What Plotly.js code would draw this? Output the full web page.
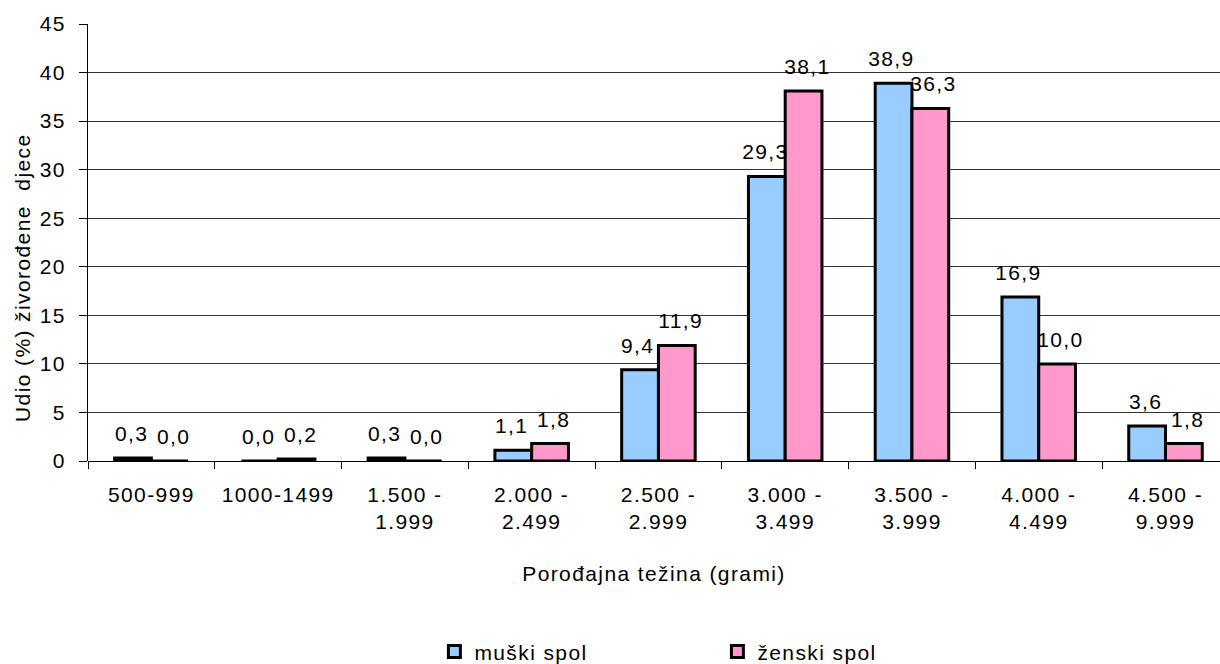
<!DOCTYPE html>
<html><head><meta charset="utf-8">
<script src="https://cdn.plot.ly/plotly-3.0.1.min.js"></script>
<style>body{margin:0;background:#fff}#c{width:1220px;height:664px}
#c text{letter-spacing:1.4px}</style>
</head><body><div id="c"></div>
<script>
const categories = ["500-999","1000-1499","1.500 -<br>1.999","2.000 -<br>2.499","2.500 -<br>2.999","3.000 -<br>3.499","3.500 -<br>3.999","4.000 -<br>4.499","4.500 -<br>9.999"];
const muski = [0.3,0.0,0.3,1.1,9.4,29.3,38.9,16.9,3.6];
const zenski = [0.0,0.2,0.0,1.8,11.9,38.1,36.3,10.0,1.8];
const seriesNames = ["muški spol","ženski spol"];
const yTitle = "Udio (%) živorođene  djece";
const xTitle = "Porođajna težina (grami)";
const fmt = v => v.toFixed(1).replace('.', ',');
const font = {family: "Liberation Sans, Arial, sans-serif", size: 21, color: "#000"};
const mk = (y, name, color) => ({
  type: "bar", x: categories, y: y, name: name,
  marker: {color: color, line: {color: "#000", width: 3}},
  hoverinfo: "skip"
});
const traces = [mk(muski, seriesNames[0], "#99CCFF"), mk(zenski, seriesNames[1], "#FF99CC")];
const annotations = [];
categories.forEach((c, i) => {
  annotations.push({x: i, xshift: -20, y: muski[i], text: fmt(muski[i]), showarrow: false, yanchor: "bottom", yshift: 11, font: font, xref: "x", yref: "y"});
  annotations.push({x: i, xshift: 22, y: zenski[i], text: fmt(zenski[i]), showarrow: false, yanchor: "bottom", yshift: 11, font: font, xref: "x", yref: "y"});
});
annotations.push({xref: "paper", yref: "paper", x: -0.058, y: 0.42, xanchor: "center", yanchor: "middle",
  textangle: -90, text: yTitle, showarrow: false, font: font});
const layout = {
  width: 1220, height: 664,
  margin: {l: 88, r: 0, t: 24, b: 203, autoexpand: false},
  paper_bgcolor: "#fff", plot_bgcolor: "#fff",
  barmode: "group", bargap: 0.42, bargroupgap: 0,
  font: font,
  xaxis: {
    type: "category", range: [-0.5, 8.43], tickson: "boundaries", automargin: false,
    ticks: "outside", ticklen: 7, tickcolor: "#000", tickwidth: 1,
    showline: false, showgrid: false, zeroline: false,
    tickfont: font, ticklabelstandoff: 19,
    title: {text: xTitle, font: font, standoff: 34}
  },
  yaxis: {
    range: [0, 45], dtick: 5, ticks: "outside", ticklen: 8, tickcolor: "#000", automargin: false,
    showline: true, linecolor: "#000", linewidth: 1,
    showgrid: true, gridcolor: "#333", gridwidth: 1, zeroline: true, zerolinecolor: "#000",
    tickfont: font, ticklabelstandoff: 9
  },
  showlegend: true,
  legend: {orientation: "h", x: 0.306, xanchor: "left", y: -0.437, yanchor: "middle",
           font: font, traceorder: "normal", tracegroupgap: 0, entrywidth: 238},
  annotations: annotations
};
Plotly.newPlot("c", traces, layout, {displayModeBar: false, staticPlot: true});
</script></body></html>
